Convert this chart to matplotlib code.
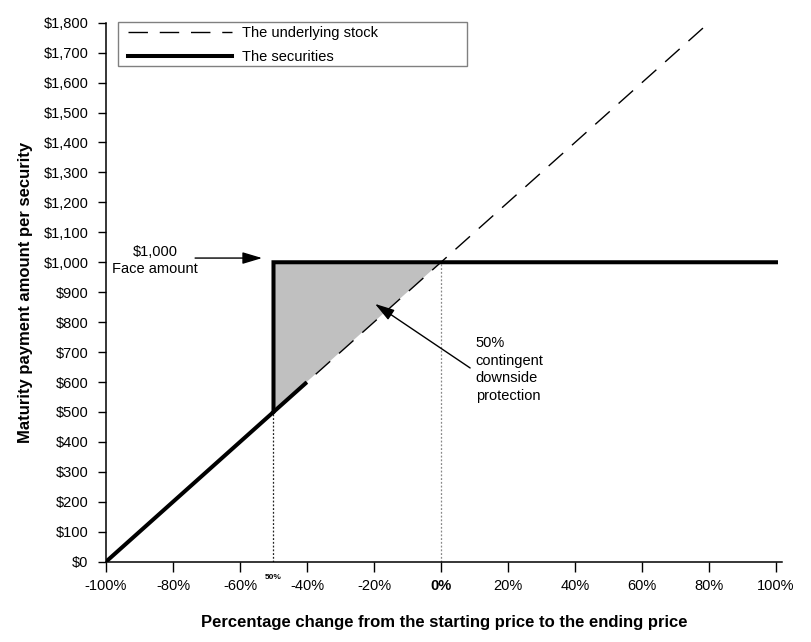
import matplotlib
matplotlib.use("Agg")
import matplotlib.pyplot as plt
from matplotlib.patches import Rectangle
from matplotlib.transforms import blended_transform_factory
import numpy as np

plt.rcParams['font.family'] = ['Liberation Sans', 'DejaVu Sans']

# Data
stock_x = [-100, 80]
stock_y = [0, 1800]
securities_x = [-100, -50, -50, 100]
securities_y = [0, 500, 1000, 1000]
overlap_x = [-50, -40.5]
overlap_y = [500, 595]
shade_x = [-50, -50, 0]
shade_y = [500, 1000, 1000]
x_ticks = [-100, -80, -60, -40, -20, 0, 20, 40, 60, 80, 100]
x_tick_labels = ['-100%', '-80%', '-60%', '-40%', '-20%', '0%', '20%', '40%', '60%', '80%', '100%']
y_ticks = list(range(0, 1801, 100))
y_tick_labels = ['$' + format(v, ',') for v in y_ticks]

W, H = 811, 642
fig = plt.figure(figsize=(W / 100, H / 100), dpi=100)
left_px, right_px, top_px, bottom_px = 106, 782, 22.7, 561.7
ax = fig.add_axes([left_px / W, 1 - bottom_px / H, (right_px - left_px) / W, (bottom_px - top_px) / H])
ax.set_xlim(-100, 101.8)
ax.set_ylim(0, 1800)

ax.fill(shade_x, shade_y, color='#c0c0c0', lw=0, zorder=1)
ax.plot(stock_x, stock_y, color='black', lw=1.0, dashes=(14, 8.5), zorder=3, label='The underlying stock')
ax.plot(securities_x, securities_y, color='black', lw=2.9, solid_joinstyle='miter', zorder=4, label='The securities')
ax.plot(overlap_x, overlap_y, color='black', lw=2.9, zorder=4)
ax.plot([-50, -50], [0, 500], color='#222222', lw=0.9, ls=(0, (1.5, 1.5)), zorder=2)
ax.plot([0, 0], [0, 1000], color='#888888', lw=0.9, ls=(0, (1.5, 1.5)), zorder=2)

for s in ['top', 'right']:
    ax.spines[s].set_visible(False)
for s in ['left', 'bottom']:
    ax.spines[s].set_linewidth(1.1)

ax.set_xticks(x_ticks)
ax.set_xticklabels(x_tick_labels, fontsize=10.5)
ax.set_yticks(y_ticks)
ax.set_yticklabels(y_tick_labels, fontsize=10.5)
ax.tick_params(axis='x', direction='out', length=7, width=1, pad=5.5)
ax.tick_params(axis='y', direction='out', length=6, width=1, pad=6.5)
for lbl in ax.get_xticklabels():
    if lbl.get_text() == '0%':
        lbl.set_fontweight('bold')

ax.set_xlabel('Percentage change from the starting price to the ending price', fontsize=12, fontweight='bold', labelpad=16)
ax.set_ylabel('Maturity payment amount per security', fontsize=12, fontweight='bold', labelpad=8)

trans = blended_transform_factory(ax.transData, ax.transAxes)
ax.text(-50, -0.0284, '50%', transform=trans, fontsize=6, fontweight='bold', ha='center', va='center')

ap = dict(arrowstyle='-|>,head_length=1.2,head_width=0.36', color='black', lw=1, shrinkA=0, shrinkB=0)
ax.annotate('', xy=(-53.4, 1014), xytext=(-73.4, 1014), arrowprops=ap)
ax.text(-85.4, 1007, '$1,000\nFace amount', fontsize=10.5, ha='center', va='center', multialignment='center', linespacing=1.3)

ax.annotate('', xy=(-19.7, 861), xytext=(8.7, 647), arrowprops=ap)
ax.text(10.4, 642, '50%\ncontingent\ndownside\nprotection', fontsize=10.5, ha='left', va='center', linespacing=1.32)

leg = ax.legend(loc='upper left', bbox_to_anchor=(128 / W, 1 - 26.5 / H), bbox_transform=fig.transFigure,
                frameon=False, fontsize=10.5, handlelength=7.1, handletextpad=0.75, borderpad=0,
                borderaxespad=0, labelspacing=0.65)
fig.patches.append(Rectangle((118 / W, 1 - 66 / H), (467 - 118) / W, 44 / H, transform=fig.transFigure,
                             fill=False, edgecolor='#808080', lw=1))

fig.savefig('out.png', dpi=100)
